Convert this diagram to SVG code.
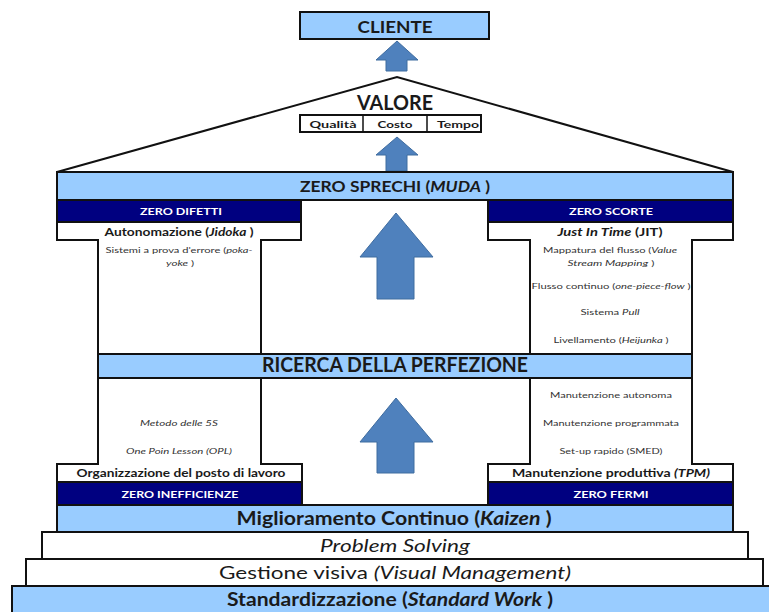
<svg xmlns="http://www.w3.org/2000/svg" width="769" height="612" viewBox="0 0 769 612">
  <defs>
    <style>
      .lb { fill: #99CCFF; stroke: #111; stroke-width: 2; }
      .nv { fill: #000080; stroke: #111; stroke-width: 2; }
      .wh { fill: #FFFFFF; stroke: #111; stroke-width: 2; }
      .ar { fill: #4F81BD; stroke: #3F6C9F; stroke-width: 1; }
      text { font-family: Lato, "Liberation Sans", sans-serif; text-anchor: middle; fill: #1a1a1a; }
      .b { font-weight: bold; }
      .it { font-style: italic; }
      .wt { fill: #FFFFFF; font-weight: bold; font-size: 9px; }
      .sm { font-size: 8px; fill: #333; }
      .md { font-size: 12px; font-weight: bold; }
    </style>
  </defs>

  <rect width="769" height="612" fill="#FFFFFF"/>

  <!-- connectors: the upward arrows -->
  <g id="connectors">
    <path class="ar" d="M397,41 L418,60 L407,60 L407,71 L386,71 L386,60 L376,60 Z"/>
    <path class="ar" d="M397,137 L418,155 L407,155 L407,171 L386,171 L386,155 L376,155 Z"/>
    <path class="ar" d="M396,213 L433,257 L414,257 L414,299 L377,299 L377,257 L360,257 Z"/>
    <path class="ar" d="M396,398 L433,442 L414,442 L414,473 L377,473 L377,442 L360,442 Z"/>
  </g>

  <g id="cliente">
    <rect class="lb" x="300" y="12" width="189" height="27"/>
    <text class="b" x="395" y="33" font-size="17" textLength="75" lengthAdjust="spacingAndGlyphs">CLIENTE</text>
  </g>

  <g id="tetto">
    <polyline points="57,172 397,77 733,172" fill="none" stroke="#111" stroke-width="2"/>
  </g>

  <g id="valore">
    <text class="b" x="395" y="110" font-size="20" textLength="76" lengthAdjust="spacingAndGlyphs">VALORE</text>
    <rect class="wh" x="300" y="115" width="181" height="17" stroke-width="1.5"/>
    <line x1="363" y1="115" x2="363" y2="132" stroke="#111" stroke-width="1.5"/>
    <line x1="427" y1="115" x2="427" y2="132" stroke="#111" stroke-width="1.5"/>
    <text class="b" x="333" y="128" font-size="10" textLength="47" lengthAdjust="spacingAndGlyphs">Qualità</text>
    <text class="b" x="395" y="128" font-size="10" textLength="35" lengthAdjust="spacingAndGlyphs">Costo</text>
    <text class="b" x="458" y="128" font-size="10" textLength="42" lengthAdjust="spacingAndGlyphs">Tempo</text>
  </g>

  <g id="zero-sprechi">
    <rect class="lb" x="57" y="172" width="676" height="28"/>
    <text class="b" x="395" y="192" font-size="16" textLength="190" lengthAdjust="spacingAndGlyphs">ZERO SPRECHI (<tspan class="it">MUDA</tspan> )</text>
  </g>

  <!-- left pillar, upper part: capital row and shaft as one T shape -->
  <g id="jidoka">
    <rect class="nv" x="57" y="200" width="244" height="22"/>
    <text class="wt" x="181" y="215" textLength="82" lengthAdjust="spacingAndGlyphs">ZERO DIFETTI</text>
    <polygon class="wh" points="57,222 301,222 301,240 261,240 261,354 98,354 98,240 57,240"/>
    <text class="md" x="179" y="236" textLength="149" lengthAdjust="spacingAndGlyphs">Autonomazione (<tspan class="it">Jidoka</tspan> )</text>
    <text class="sm" x="179" y="253" textLength="147" lengthAdjust="spacingAndGlyphs">Sistemi a prova d'errore (<tspan class="it">poka-</tspan></text>
    <text class="sm it" x="180" y="266" textLength="28" lengthAdjust="spacingAndGlyphs">yoke <tspan font-style="normal">)</tspan></text>
  </g>

  <!-- right pillar, upper part -->
  <g id="jit">
    <rect class="nv" x="488" y="200" width="245" height="22"/>
    <text class="wt" x="611" y="215" textLength="84" lengthAdjust="spacingAndGlyphs">ZERO SCORTE</text>
    <polygon class="wh" points="488,222 733,222 733,240 692,240 692,354 530,354 530,240 488,240"/>
    <text class="md" x="610" y="236" textLength="105" lengthAdjust="spacingAndGlyphs"><tspan class="it">Just In Time</tspan> (JIT)</text>
    <text class="sm" x="610" y="253" textLength="134" lengthAdjust="spacingAndGlyphs">Mappatura del flusso (<tspan class="it">Value</tspan></text>
    <text class="sm" x="611" y="266" textLength="87" lengthAdjust="spacingAndGlyphs"><tspan class="it">Stream Mapping</tspan> )</text>
    <text class="sm" x="611" y="289" textLength="159" lengthAdjust="spacingAndGlyphs">Flusso continuo (<tspan class="it">one-piece-flow</tspan> )</text>
    <text class="sm" x="610" y="315" textLength="59" lengthAdjust="spacingAndGlyphs">Sistema <tspan class="it">Pull</tspan></text>
    <text class="sm" x="611" y="343" textLength="115" lengthAdjust="spacingAndGlyphs">Livellamento (<tspan class="it">Heijunka</tspan> )</text>
  </g>

  <g id="perfezione">
    <rect class="lb" x="98" y="354" width="594" height="24"/>
    <text class="b" x="395" y="372" font-size="20" textLength="266" lengthAdjust="spacingAndGlyphs">RICERCA DELLA PERFEZIONE</text>
  </g>

  <!-- left pillar, lower part: shaft and base row as one inverted T -->
  <g id="organizzazione">
    <polygon class="wh" points="98,378 261,378 261,464 302,464 302,482 57,482 57,464 98,464"/>
    <text class="sm it" x="179" y="426" textLength="78" lengthAdjust="spacingAndGlyphs">Metodo delle 5S</text>
    <text class="sm it" x="179" y="454" textLength="106" lengthAdjust="spacingAndGlyphs">One Poin Lesson (OPL)</text>
    <text class="md" x="181" y="477" textLength="209" lengthAdjust="spacingAndGlyphs">Organizzazione del posto di lavoro</text>
    <rect class="nv" x="57" y="482" width="245" height="23"/>
    <text class="wt" x="180" y="498" textLength="117" lengthAdjust="spacingAndGlyphs">ZERO INEFFICIENZE</text>
  </g>

  <!-- right pillar, lower part -->
  <g id="tpm">
    <polygon class="wh" points="530,378 692,378 692,464 733,464 733,482 488,482 488,464 530,464"/>
    <text class="sm" x="611" y="398" textLength="122" lengthAdjust="spacingAndGlyphs">Manutenzione autonoma</text>
    <text class="sm" x="611" y="426" textLength="136" lengthAdjust="spacingAndGlyphs">Manutenzione programmata</text>
    <text class="sm" x="611" y="454" textLength="103" lengthAdjust="spacingAndGlyphs">Set-up rapido (SMED)</text>
    <text class="md" x="611" y="477" textLength="198" lengthAdjust="spacingAndGlyphs">Manutenzione produttiva <tspan class="it">(TPM)</tspan></text>
    <rect class="nv" x="488" y="482" width="245" height="23"/>
    <text class="wt" x="611" y="498" textLength="75" lengthAdjust="spacingAndGlyphs">ZERO FERMI</text>
  </g>

  <g id="kaizen">
    <rect class="lb" x="57" y="505" width="676" height="27"/>
    <text class="b" x="394" y="525" font-size="18" textLength="315" lengthAdjust="spacingAndGlyphs">Miglioramento Continuo (<tspan class="it">Kaizen</tspan> )</text>
  </g>

  <g id="problem-solving">
    <rect class="wh" x="42" y="532" width="706" height="27"/>
    <text class="it" x="395" y="552" font-size="17" fill="#333" textLength="150" lengthAdjust="spacingAndGlyphs">Problem Solving</text>
  </g>

  <g id="gestione-visiva">
    <rect class="wh" x="26" y="559" width="737" height="27"/>
    <text x="395" y="579" font-size="17" fill="#333" textLength="352" lengthAdjust="spacingAndGlyphs">Gestione visiva <tspan class="it">(Visual Management)</tspan></text>
  </g>

  <g id="standardizzazione">
    <rect class="lb" x="12" y="586" width="765" height="30"/>
    <text class="b" x="390" y="606" font-size="18" textLength="326" lengthAdjust="spacingAndGlyphs">Standardizzazione (<tspan class="it">Standard Work</tspan> )</text>
  </g>
</svg>
